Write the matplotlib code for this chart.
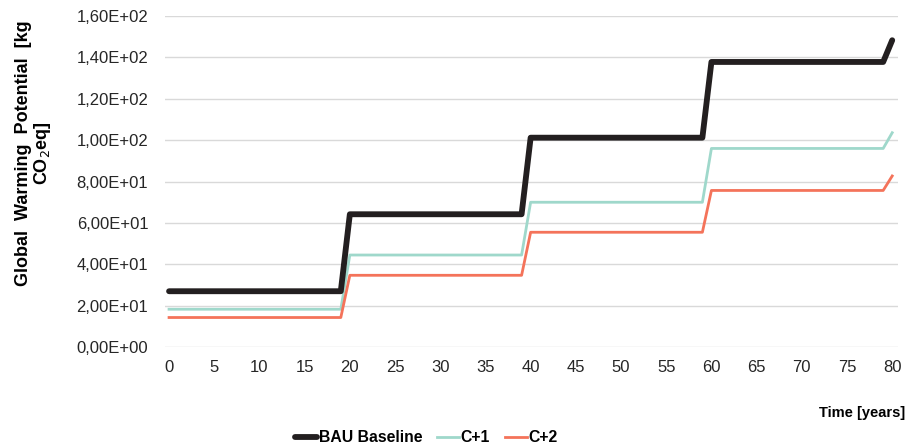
import matplotlib
matplotlib.use("Agg")
import matplotlib.pyplot as plt
from matplotlib.ticker import FuncFormatter

plt.rcParams['font.family'] = ['Liberation Sans', 'DejaVu Sans']

# corner points of the step curves
years = [0, 19, 20, 39, 40, 59, 60, 79, 80]
bau = [27.0, 27.0, 64.2, 64.2, 101.2, 101.2, 137.8, 137.8, 148.3]
c1 = [18.3, 18.3, 44.5, 44.5, 70.0, 70.0, 96.0, 96.0, 103.6]
c2 = [14.3, 14.3, 34.7, 34.7, 55.5, 55.5, 75.7, 75.7, 82.7]

fig = plt.figure(figsize=(9.09, 4.45), dpi=100)
ax = fig.add_axes([0.1815, 0.220, 0.806, 0.744])

ax.plot(years, bau, color='#231f20', lw=4.2, solid_capstyle='round', label='BAU Baseline', zorder=3)
ax.plot(years, c1, color='#9fd8cb', lw=2.0, label='C+1', zorder=2)
ax.plot(years, c2, color='#f4735a', lw=2.0, label='C+2', zorder=2)

ax.set_xlim(-0.45, 80.6)
ax.set_ylim(0, 160)
ax.set_xticks(range(0, 81, 5))
ax.set_yticks(range(0, 161, 20))

def sci_comma(v, pos):
    s = '%.2E' % v
    return s.replace('.', ',')

ax.yaxis.set_major_formatter(FuncFormatter(sci_comma))
ax.grid(axis='y', color='#d9d9d9', lw=1.0)
ax.set_axisbelow(True)
for s in ax.spines.values():
    s.set_visible(False)
ax.tick_params(length=0, labelsize=12, colors='#262626')
ax.tick_params(axis='y', pad=12)
ax.tick_params(axis='x', pad=9)

fig.text(0.037, 0.655, 'Global  Warming  Potential  [kg\nCO$_2$eq]', rotation=90,
         ha='center', va='center', fontsize=13, fontweight='bold', linespacing=1.0)
fig.text(0.996, 0.072, 'Time [years]', ha='right', va='center', fontsize=10.5, fontweight='bold')

leg = fig.legend(loc='center', bbox_to_anchor=(0.469, 0.016), ncol=3, frameon=False,
                 prop={'weight': 'bold', 'size': 11.3}, handlelength=1.4, handletextpad=0.1,
                 columnspacing=0.95, borderpad=0)

fig.savefig('out.png', dpi=100)
